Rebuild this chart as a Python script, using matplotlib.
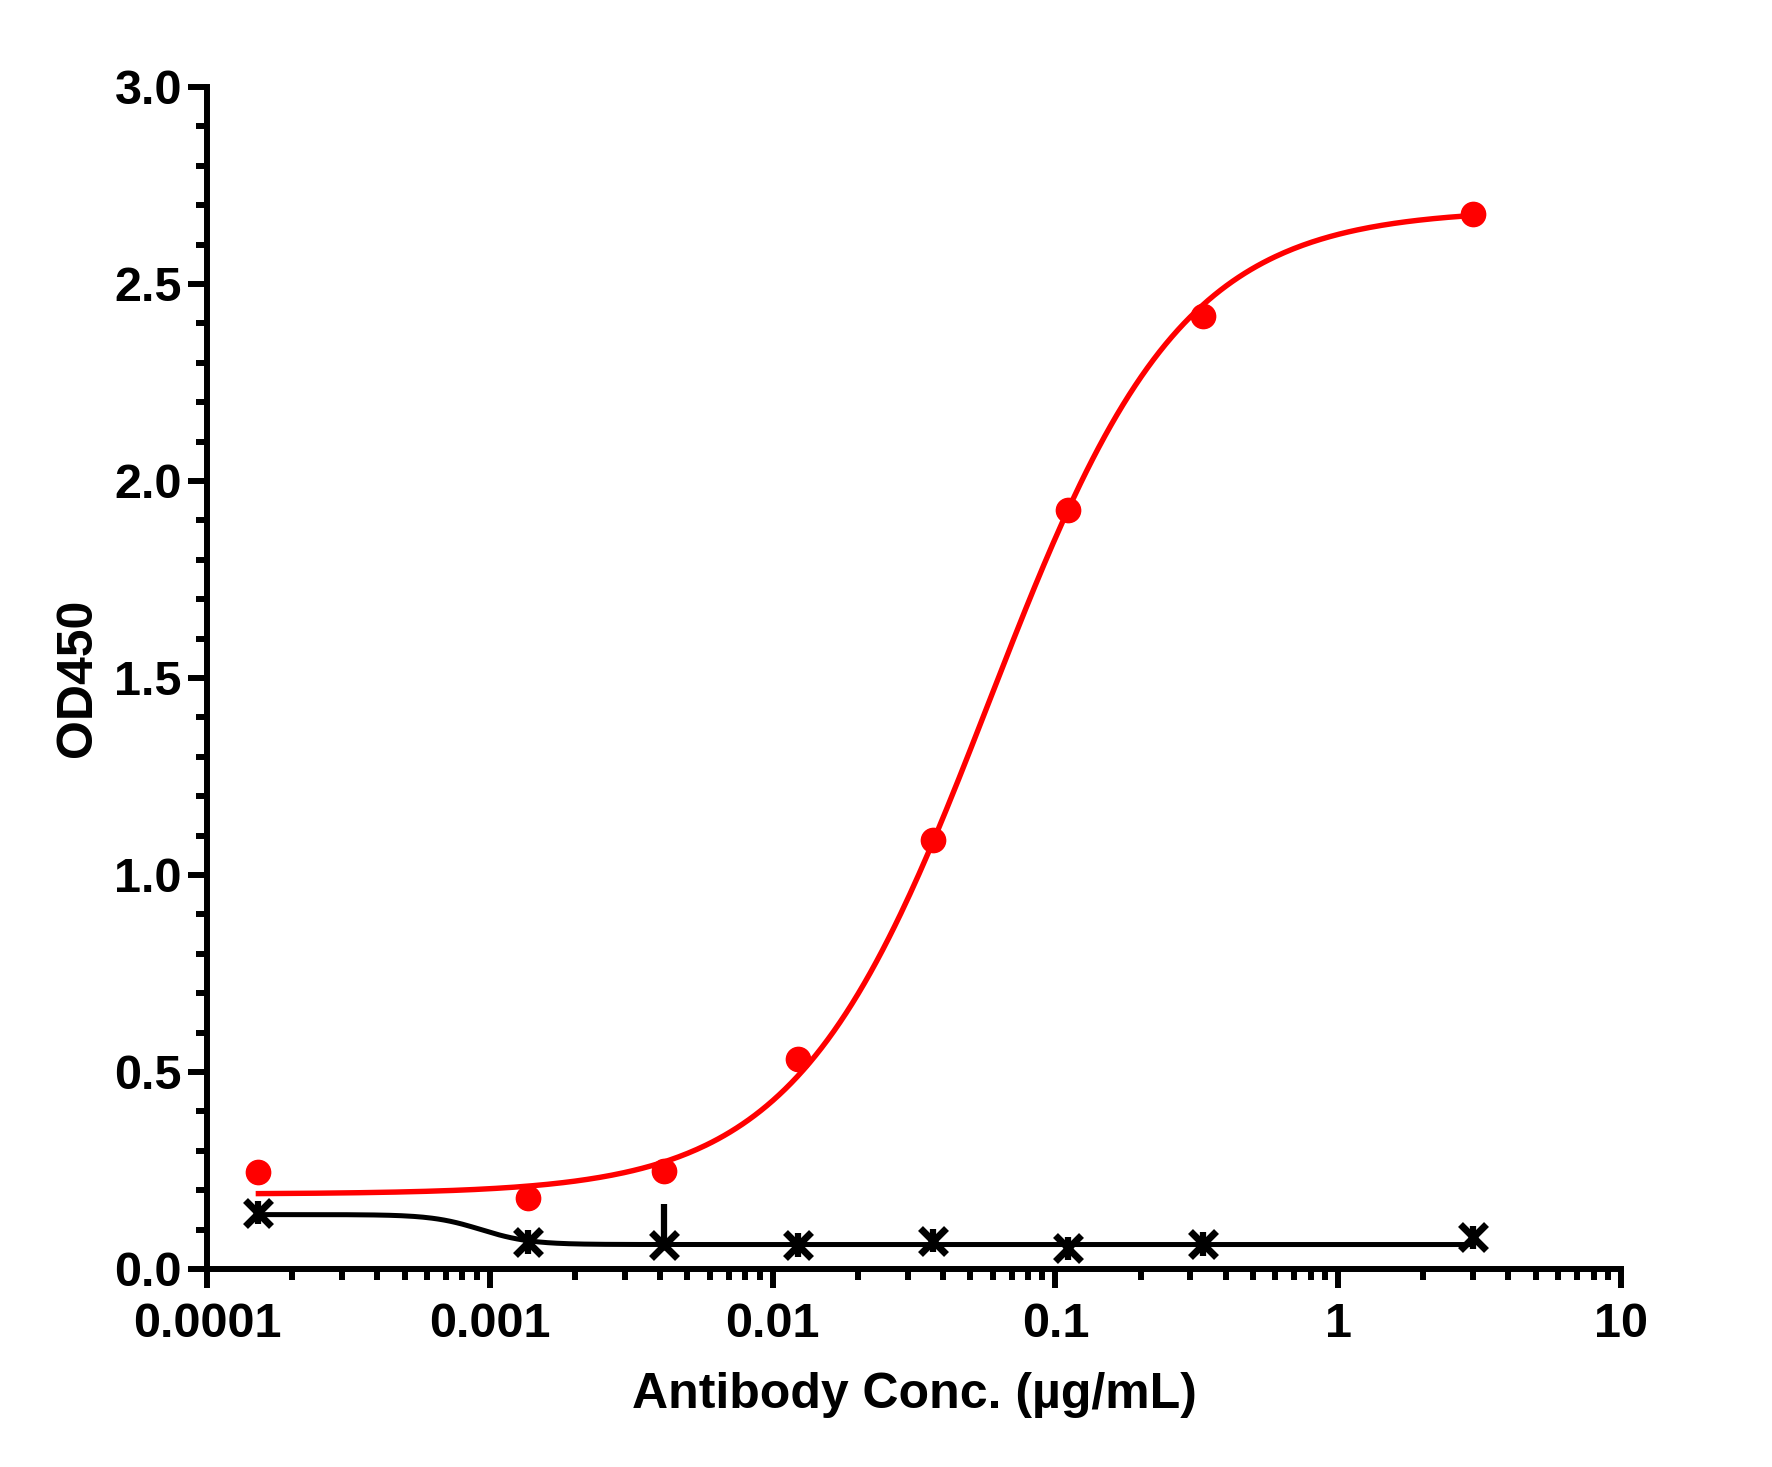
import numpy as np
import matplotlib
matplotlib.use("Agg")
import matplotlib.pyplot as plt
from matplotlib.ticker import FixedLocator, LogLocator, MultipleLocator, NullFormatter

plt.rcParams['font.family'] = ['Liberation Sans', 'DejaVu Sans']
plt.rcParams['font.weight'] = 'bold'

# antibody dilution series (ug/mL)
conc = [3.0, 0.333, 0.111, 0.037, 0.0123, 0.00412, 0.00137, 0.000152]

# red: binding antibody
od_red = [2.677, 2.419, 1.927, 1.088, 0.532, 0.249, 0.180, 0.246]

# black: control
od_black = [0.080, 0.063, 0.052, 0.072, 0.060, 0.060, 0.069, 0.143]
err_black_lo = [0.03, 0.03, 0.03, 0.03, 0.03, 0.01, 0.03, 0.03]
err_black_hi = [0.03, 0.03, 0.03, 0.03, 0.03, 0.104, 0.03, 0.03]

# 4PL fit parameters: bottom, top, EC50, hill
fit_red = (0.19, 2.69, 0.0583, 1.28)
fit_black = (0.062, 0.138, 0.00093, -5.0)

x_ticks = [0.0001, 0.001, 0.01, 0.1, 1, 10]
x_ticklabels = ['0.0001', '0.001', '0.01', '0.1', '1', '10']
y_ticks = [0.0, 0.5, 1.0, 1.5, 2.0, 2.5, 3.0]
y_ticklabels = ['0.0', '0.5', '1.0', '1.5', '2.0', '2.5', '3.0']


def four_pl(x, p):
    bottom, top, ec50, hill = p
    return bottom + (top - bottom) / (1 + (ec50 / x) ** hill)


fig = plt.figure(figsize=(17.72, 14.67), dpi=100)
ax = fig.add_axes([0.1168, 0.1350, 0.9148 - 0.1168, 0.9407 - 0.1350])

xs = np.logspace(np.log10(min(conc)), np.log10(max(conc)), 400)
ax.plot(xs, four_pl(xs, fit_red), color='#ff0000', lw=3.9, zorder=3)
ax.plot(xs, four_pl(xs, fit_black), color='black', lw=3.6, zorder=3)

ax.plot(conc, od_red, 'o', color='#ff0000', markersize=17.5, zorder=4, clip_on=False)
ax.errorbar(conc, od_black, yerr=[err_black_lo, err_black_hi], fmt='x', color='black',
            markersize=19, mew=5, elinewidth=4.5, capsize=0, zorder=5, clip_on=False)

ax.set_xscale('log')
ax.set_xlim(0.0001, 10)
ax.set_ylim(0, 3.0)

ax.xaxis.set_major_locator(FixedLocator(x_ticks))
ax.set_xticklabels(x_ticklabels)
ax.xaxis.set_minor_locator(LogLocator(base=10, subs=np.arange(2, 10)))
ax.xaxis.set_minor_formatter(NullFormatter())
ax.set_yticks(y_ticks)
ax.set_yticklabels(y_ticklabels)
ax.yaxis.set_minor_locator(MultipleLocator(0.1))

for side in ['top', 'right']:
    ax.spines[side].set_visible(False)
for side in ['left', 'bottom']:
    ax.spines[side].set_linewidth(4.3)

ax.tick_params(which='major', length=14, width=4.3, labelsize=35, direction='out')
ax.tick_params(which='minor', length=8, width=4.3, direction='out')
ax.tick_params(axis='x', which='major', pad=10)
ax.tick_params(axis='y', which='major', pad=4)

ax.set_xlabel('Antibody Conc. (µg/mL)', fontsize=36, fontweight='bold', labelpad=18)
ax.set_ylabel('OD450', fontsize=36, fontweight='bold', labelpad=10)

fig.savefig('out.png', dpi=100)
